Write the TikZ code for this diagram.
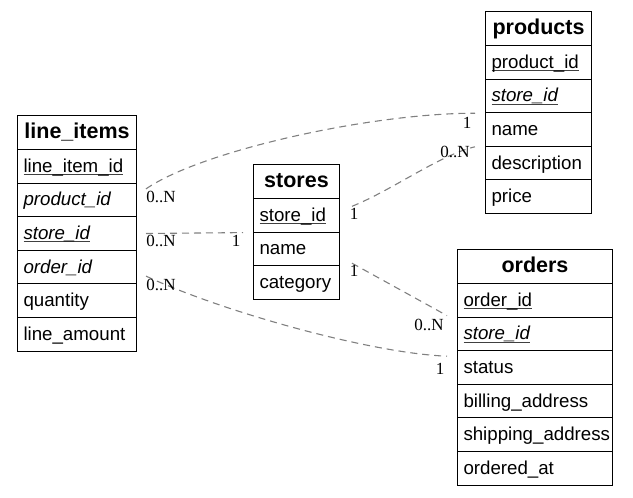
\documentclass[tikz,border=0pt]{standalone}
\usepackage{fontspec}
\setmainfont{Liberation Sans}
\newfontfamily\lblfont{Liberation Serif}
\usetikzlibrary{calc}
\newcommand\ulfield[1]{\setbox0\hbox{#1}\rlap{\color{black!75}\rule[-2.6pt]{\wd0}{0.9pt}}\box0}
\begin{document}
\begin{tikzpicture}[x=1pt,y=-1pt,
  cellbase/.style={draw=black, line width=1pt, rectangle, anchor=north west,
    inner xsep=6pt, inner ysep=0pt, text height=15pt, text depth=3pt,
    font=\fontsize{18.7}{22}\selectfont},
  hdr/.style={cellbase, text width=#1-12pt, align=center, minimum height=34pt,
    font=\fontsize{21.5}{24}\selectfont\bfseries},
  fld/.style={cellbase, text width=#1-12pt, align=left, minimum height=33.6pt},
  rel/.style={draw=gray, line width=1.1pt, dash pattern=on 7pt off 5pt},
  card/.style={font=\lblfont\fontsize{17}{19}\selectfont, inner sep=0pt}
]
\useasboundingbox (0,0) rectangle (633,498);

% line_items
\node[hdr=119pt] (li0) at (17,115) {line\_items};
\node[fld=119pt] (li1) at (17,149) {\ulfield{line\_item\_id}};
\node[fld=119pt] (li2) at (17,182.6) {\itshape product\_id};
\node[fld=119pt] (li3) at (17,216.2) {\ulfield{\itshape store\_id}};
\node[fld=119pt] (li4) at (17,249.8) {\itshape order\_id};
\node[fld=119pt] (li5) at (17,283.4) {quantity};
\node[fld=119pt] (li6) at (17,317) {line\_amount};

% stores
\node[hdr=86pt] (st0) at (253,164) {stores};
\node[fld=86pt] (st1) at (253,198) {\ulfield{store\_id}};
\node[fld=86pt] (st2) at (253,231.6) {name};
\node[fld=86pt] (st3) at (253,265.2) {category};

% products
\node[hdr=106pt] (pr0) at (485,11) {products};
\node[fld=106pt] (pr1) at (485,45) {\ulfield{product\_id}};
\node[fld=106pt] (pr2) at (485,78.6) {\ulfield{\itshape store\_id}};
\node[fld=106pt] (pr3) at (485,112.2) {name};
\node[fld=106pt] (pr4) at (485,145.8) {description};
\node[fld=106pt] (pr5) at (485,179.4) {price};

% orders
\node[hdr=155pt] (or0) at (457,249) {orders};
\node[fld=155pt] (or1) at (457,283) {\ulfield{order\_id}};
\node[fld=155pt] (or2) at (457,316.6) {\ulfield{\itshape store\_id}};
\node[fld=155pt] (or3) at (457,350.2) {status};
\node[fld=155pt] (or4) at (457,383.8) {billing\_address};
\node[fld=155pt] (or5) at (457,417.4) {shipping\_address};
\node[fld=155pt] (or6) at (457,451) {ordered\_at};

% connector end points
\coordinate (a1) at ([xshift=9pt,yshift=11pt]li2.east);
\coordinate (b1) at ([xshift=-10pt]pr2.south west);
\coordinate (a2) at ([xshift=9pt]li3.east);
\coordinate (b2) at ([xshift=-10pt]st1.south west);
\coordinate (a3) at ([xshift=9pt,yshift=-9pt]li4.east);
\coordinate (b3) at ([xshift=-10pt,yshift=-6pt]or3.north west);
\coordinate (a4) at ([xshift=12pt,yshift=9pt]st1.east);
\coordinate (b4) at ([xshift=-10pt]pr3.south west);
\coordinate (a5) at ([xshift=12pt,yshift=3pt]st2.south east);
\coordinate (b5) at ([xshift=-10pt,yshift=2pt]or1.south west);

\draw[rel] (a1) .. controls ($(a1)+(55,-38)$) and ($(b1)+(-105,0)$) .. (b1);
\draw[rel] (a2) -- (b2);
\draw[rel] (a3) .. controls ($(a3)+(75,35)$) and ($(b3)+(-77,-3)$) .. (b3);
\draw[rel] (a4) .. controls ($(a4)+(40,-16)$) and ($(b4)+(-35,8)$) .. (b4);
\draw[rel] (a5) -- (b5);

% cardinalities
\node[card] (c1a) at (161,197) {0..N};
\node[card] (c1b) at (467,123) {1};
\node[card] (c2a) at (161,241) {0..N};
\node[card] (c2b) at (236,241) {1};
\node[card] (c3a) at (161,285) {0..N};
\node[card] (c3b) at (440,369) {1};
\node[card] (c4a) at (354,214) {1};
\node[card] (c4b) at (455,152) {0..N};
\node[card] (c5a) at (354,271) {1};
\node[card] (c5b) at (429,325) {0..N};
\end{tikzpicture}
\end{document}
